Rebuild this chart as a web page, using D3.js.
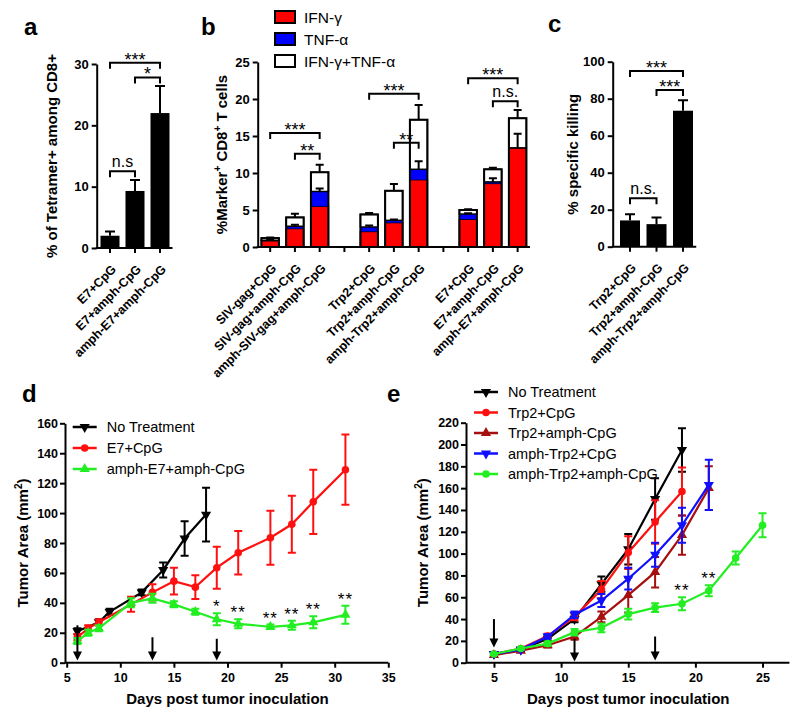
<!DOCTYPE html>
<html>
<head>
<meta charset="utf-8">
<script src="https://cdn.jsdelivr.net/npm/d3@7"></script>
<style>
  body { margin: 0; background: #fff; }
</style>
</head>
<body>
<svg width="800" height="716"></svg>
<script>
// ---- panel a ----
const aCats = ["E7+CpG", "E7+amph-CpG", "amph-E7+amph-CpG"];
const aVals = [2.0, 9.3, 22.0];
const aErr = [0.7, 1.8, 4.4];
const aTicks = [0, 10, 20, 30];
const aSig = [[0, 2, 30.2, "***"], [1, 2, 27.8, "*"], [0, 1, 12.5, "n.s"]];

// ---- panel b ----
const bCats = ["SIV-gag+CpG", "SIV-gag+amph-CpG", "amph-SIV-gag+amph-CpG", "",
  "Trp2+CpG", "Trp2+amph-CpG", "amph-Trp2+amph-CpG", "",
  "E7+CpG", "E7+amph-CpG", "amph-E7+amph-CpG"];
const bIfn = [0.85, 2.5, 5.5, 0, 2.1, 3.3, 9.1, 0, 3.75, 8.6, 13.4];
const bTnf = [0.05, 0.3, 2.0, 0, 0.6, 0.3, 1.4, 0, 0.7, 0.2, 0.0];
const bBoth = [0.3, 1.2, 2.6, 0, 1.7, 4.0, 6.7, 0, 0.55, 1.7, 4.0];
const bErr = [0.1, 0.5, 1.0, 0, 0.2, 0.9, 2.0, 0, 0.1, 0.2, 1.1];
const bInnerErr = [0.05, 0.2, 0.4, 0, 0.2, 0.1, 1.1, 0, 0.1, 0.5, 1.9];
const bTicks = [0, 5, 10, 15, 20, 25];
const bKeys = ["IFN-γ", "TNF-α", "IFN-γ+TNF-α"];
const bSig = [[0, 2, 15.4, "***"], [1, 2, 12.6, "**"],
  [4, 6, 20.7, "***"], [5, 6, 14.1, "**"],
  [8, 10, 22.8, "***"], [9, 10, 19.7, "n.s."]];

// ---- panel c ----
const cCats = ["Trp2+CpG", "Trp2+amph-CpG", "amph-Trp2+amph-CpG"];
const cVals = [14.2, 12.2, 73.5];
const cErr = [3.4, 3.6, 5.6];
const cTicks = [0, 20, 40, 60, 80, 100];
const cSig = [[0, 2, 95, "***"], [1, 2, 84.7, "***"], [0, 1, 26.2, "n.s."]];

// ---- panel d ----
const dNames = ["No Treatment", "E7+CpG", "amph-E7+amph-CpG"];
const dNoTxDays = [6, 8, 9, 12, 14, 16, 18];
const dNoTx = [21, 27, 34, 47, 62, 83, 99];
const dNoTxErr = [2, 2, 2, 2, 5, 11.5, 18];
const dDays = [6, 7, 8, 11, 13, 15, 17, 19, 21, 24, 26, 28, 31];
const dE7 = [17, 23, 27, 39, 47, 54.5, 50.5, 63.5, 73.5, 83.5, 92.5, 107.5, 129];
const dE7Err = [2, 2, 2, 5, 5.5, 9, 8, 14, 14.5, 18, 19, 21.5, 23.5];
const dAmph = [14.5, 20, 23, 40, 43, 39, 34, 29, 26, 24, 25, 27, 32];
const dAmphErr = [2, 2, 2, 3, 3, 2, 2, 4, 3, 1.5, 3, 4, 6];
const dStarDays = [19, 21, 24, 26, 28, 31];
const dStars = ["*", "**", "**", "**", "**", "**"];
const dArrowDays = [6, 13, 19];
const dArrowTop = [25, 17, 16];
const dArrowBot = [1.5, 1.5, 1.5];
const dXTicks = [5, 10, 15, 20, 25, 30, 35];
const dYTicks = d3.range(0, 161, 20);

// ---- panel e ----
const eNames = ["No Treatment", "Trp2+CpG", "Trp2+amph-CpG", "amph-Trp2+CpG", "amph-Trp2+amph-CpG"];
const eDays = [5, 7, 9, 11, 13, 15, 17, 19, 21, 23, 25];
const eNoTx = [8, 12, 22, 40, 72, 104, 150, 195];
const eNoTxErr = [1, 1, 2, 3, 7, 14, 19, 20];
const eTrp2 = [8, 13, 24.5, 42, 67, 101, 129, 157];
const eTrp2Err = [1, 1, 2, 3, 8, 15, 20, 22];
const eTrp2Amph = [7, 11, 16, 24, 42, 62, 83, 117, 160];
const eTrp2AmphErr = [1, 1, 2, 3, 5, 16, 14, 18, 20];
const eAmphTrp2 = [8, 12, 24, 44, 57, 77, 99, 126, 163];
const eAmphTrp2Err = [1, 1, 2, 3, 6, 10, 11, 16, 23];
const eAmphBoth = [8, 13, 17.5, 28, 32, 44.5, 50.5, 54, 66, 96, 126];
const eAmphBothErr = [1, 1, 2, 3, 4, 5, 4, 6, 5, 6, 11];
const eStarDays = [19, 21];
const eStars = ["**", "**"];
const eArrowDays = [5, 11, 17];
const eArrowTop = [40, 22, 24];
const eArrowBot = [14, 1, 2];
const eXTicks = [5, 10, 15, 20, 25];
const eYTicks = d3.range(0, 221, 20);

const FONT = "Arial, 'Liberation Sans', sans-serif";
const svg = d3.select("svg").attr("font-family", FONT);

function styleAxis(ax, fs) {
  ax.attr("font-family", FONT).attr("font-size", fs).attr("font-weight", "bold");
  ax.selectAll(".domain, .tick line").attr("stroke", "#000").attr("stroke-width", 2);
  ax.selectAll(".tick text").attr("fill", "#000");
}

function panelLetter(t, x, y) {
  svg.append("text").attr("x", x).attr("y", y).attr("font-size", 24)
    .attr("font-weight", "bold").text(t);
}

function yTitle(g, x, yc, parts) {
  const t = g.append("text").attr("transform", `translate(${x},${yc}) rotate(-90)`)
    .attr("text-anchor", "middle").attr("font-size", 15).attr("font-weight", "bold");
  parts.forEach(p => {
    if (p.sup) t.append("tspan").attr("font-size", 10).attr("dy", -6).text(p.t);
    else t.append("tspan").attr("dy", p.after ? 6 : 0).text(p.t);
  });
}

function barFrame(o) {
  const g = svg.append("g");
  const x = d3.scaleBand().domain(d3.range(o.labels.length)).range(o.xr)
    .paddingInner(o.pad).paddingOuter(o.pad / 2);
  const y = d3.scaleLinear().domain(o.yd).range(o.yr);
  const ya = g.append("g").attr("transform", `translate(${o.ax},0)`)
    .call(d3.axisLeft(y).tickValues(o.ticks).tickSize(5).tickPadding(3).tickSizeOuter(0));
  styleAxis(ya, 13);
  const xa = g.append("g").attr("transform", `translate(0,${o.yr[0]})`)
    .call(d3.axisBottom(x).tickSize(5).tickSizeOuter(0).tickFormat(i => o.labels[i]));
  styleAxis(xa, 12.5);
  xa.select(".domain").remove();
  xa.selectAll(".tick text").attr("y", 0).attr("dy", null).attr("text-anchor", "end")
    .attr("transform", "translate(7,22) rotate(-45)");
  g.append("line").attr("x1", o.ax - 1).attr("x2", o.xr[1]).attr("y1", o.yr[0]).attr("y2", o.yr[0])
    .attr("stroke", "#000").attr("stroke-width", 2);
  yTitle(g, o.tx, (o.yr[0] + o.yr[1]) / 2, o.title);
  return { g, x, y };
}

function errUp(p, i, v, e, w) {
  const cx = p.x(i) + p.x.bandwidth() / 2, y1 = p.y(v), y2 = p.y(v + e);
  p.g.append("path").attr("d", `M${cx},${y1}V${y2}M${cx - w / 2},${y2}H${cx + w / 2}`)
    .attr("stroke", "#000").attr("stroke-width", 2).attr("fill", "none");
}

function brackets(p, sig) {
  sig.forEach(([i, j, v, t]) => {
    const x1 = p.x(i) + p.x.bandwidth() / 2, x2 = p.x(j) + p.x.bandwidth() / 2, yy = p.y(v);
    p.g.append("path").attr("d", `M${x1},${yy + 6}V${yy}H${x2}V${yy + 6}`)
      .attr("fill", "none").attr("stroke", "#000").attr("stroke-width", 2);
    const star = t[0] === "*";
    p.g.append("text").attr("x", (x1 + x2) / 2).attr("y", star ? yy + 3 : yy - 4)
      .attr("text-anchor", "middle").attr("font-size", star ? 18 : 16).text(t);
  });
}

// ---------- a ----------
panelLetter("a", 24, 35);
const pa = barFrame({ labels: aCats, xr: [97.5, 172.5], pad: 0.24, ax: 96.7, yd: [0, 30], yr: [248, 64],
  ticks: aTicks, tx: 57, title: [{ t: "% of Tetramer+ among CD8+" }] });
pa.g.selectAll(".bar").data(aVals).join("rect")
  .attr("x", (d, i) => pa.x(i)).attr("y", d => pa.y(d))
  .attr("width", pa.x.bandwidth()).attr("height", d => pa.y(0) - pa.y(d)).attr("fill", "#000");
aVals.forEach((v, i) => errUp(pa, i, v, aErr[i], 10));
brackets(pa, aSig);

// ---------- b ----------
panelLetter("b", 201, 35);
const pb = barFrame({ labels: bCats, xr: [257.8, 530], pad: 0.293, ax: 257.7, yd: [0, 25], yr: [247, 62],
  ticks: bTicks, tx: 227,
  title: [{ t: "%Marker" }, { t: "+", sup: true }, { t: " CD8", after: true }, { t: "+", sup: true }, { t: " T cells", after: true }] });
const bRows = bCats.map((c, i) => ({ i, ifn: bIfn[i], tnf: bTnf[i], both: bBoth[i] }));
const bStack = d3.stack().keys(["ifn", "tnf", "both"])(bRows);
const bColor = d3.scaleOrdinal().domain(["ifn", "tnf", "both"]).range(["#ff0000", "#0000ff", "#ffffff"]);
bStack.forEach(layer => {
  pb.g.append("g").selectAll("rect").data(layer.filter(d => bCats[d.data.i] !== "")).join("rect")
    .attr("x", d => pb.x(d.data.i)).attr("y", d => pb.y(d[1]))
    .attr("width", pb.x.bandwidth()).attr("height", d => pb.y(d[0]) - pb.y(d[1]))
    .attr("fill", bColor(layer.key)).attr("stroke", "#000").attr("stroke-width", layer.key === "tnf" ? 0 : 1.5);
});
bRows.forEach(r => {
  if (bCats[r.i] === "") return;
  const tot = r.ifn + r.tnf + r.both;
  pb.g.append("rect").attr("x", pb.x(r.i)).attr("y", pb.y(tot)).attr("width", pb.x.bandwidth())
    .attr("height", pb.y(0) - pb.y(tot)).attr("fill", "none").attr("stroke", "#000").attr("stroke-width", 2);
  errUp(pb, r.i, tot, bErr[r.i], 8);
  errUp(pb, r.i, r.ifn + r.tnf, bInnerErr[r.i], 8);
});
brackets(pb, bSig);
const bLeg = svg.append("g").attr("transform", "translate(275,11)");
bKeys.forEach((k, i) => {
  const row = bLeg.append("g").attr("transform", `translate(0,${i * 22})`);
  row.append("rect").attr("width", 20).attr("height", 12)
    .attr("fill", bColor.range()[i]).attr("stroke", "#000").attr("stroke-width", 2);
  row.append("text").attr("x", 29).attr("y", 12).attr("font-size", 15.5).text(k);
});

// ---------- c ----------
panelLetter("c", 548, 32);
const pc = barFrame({ labels: cCats, xr: [616.75, 696.25], pad: 0.245, ax: 612.7, yd: [0, 100], yr: [246.7, 61.7],
  ticks: cTicks, tx: 578, title: [{ t: "% specific killing" }] });
pc.g.selectAll(".bar").data(cVals).join("rect")
  .attr("x", (d, i) => pc.x(i)).attr("y", d => pc.y(d))
  .attr("width", pc.x.bandwidth()).attr("height", d => pc.y(0) - pc.y(d)).attr("fill", "#000");
cVals.forEach((v, i) => errUp(pc, i, v, cErr[i], 10));
brackets(pc, cSig);

// ---------- line panels ----------
const SYM = {
  down: { type: d3.symbolTriangle, size: 45, rot: 180 },
  circle: { type: d3.symbolCircle, size: 45, rot: 0 },
  up: { type: d3.symbolTriangle, size: 45, rot: 0 }
};

function lineFrame(o) {
  const g = svg.append("g");
  const x = d3.scaleLinear().domain(o.xd).range(o.xr);
  const y = d3.scaleLinear().domain(o.yd).range(o.yr);
  const ya = g.append("g").attr("transform", `translate(${o.ax},0)`)
    .call(d3.axisLeft(y).tickValues(o.yt).tickSize(5).tickPadding(2).tickSizeOuter(0));
  styleAxis(ya, 12.5);
  const xa = g.append("g").attr("transform", `translate(0,${o.yr[0]})`)
    .call(d3.axisBottom(x).tickValues(o.xt).tickSize(5).tickPadding(5).tickSizeOuter(0));
  styleAxis(xa, 12.5);
  xa.select(".domain").attr("d", `M${o.ax},0H${o.xr[1]}`);
  yTitle(g, o.tx, (o.yr[0] + o.yr[1]) / 2, [{ t: "Tumor Area (mm" }, { t: "2", sup: true }, { t: ")", after: true }]);
  g.append("text").attr("x", (o.xr[0] + o.xr[1]) / 2).attr("y", 704).attr("text-anchor", "middle")
    .attr("font-size", 15).attr("font-weight", "bold").text("Days post tumor inoculation");
  return { g, x, y };
}

function marker(sel, s) {
  return sel.attr("d", d3.symbol(s.type, s.size)());
}

function series(p, days, vals, errs, color, s) {
  const pts = vals.map((v, i) => [days[i], v, errs[i]]);
  p.g.append("path").datum(pts).attr("d", d3.line().x(d => p.x(d[0])).y(d => p.y(d[1])))
    .attr("fill", "none").attr("stroke", color).attr("stroke-width", 2.2);
  const eb = p.g.append("g").attr("stroke", color).attr("stroke-width", 2).attr("fill", "none");
  pts.forEach(d => {
    const cx = p.x(d[0]), y1 = p.y(d[1] - d[2]), y2 = p.y(d[1] + d[2]);
    eb.append("path").attr("d", `M${cx},${y1}V${y2}M${cx - 4},${y1}H${cx + 4}M${cx - 4},${y2}H${cx + 4}`);
  });
  marker(p.g.append("g").selectAll("path").data(pts).join("path")
    .attr("transform", d => `translate(${p.x(d[0])},${p.y(d[1])}) rotate(${s.rot})`), s)
    .attr("fill", color);
}

function legend(x, y, step, names, colors, syms) {
  names.forEach((n, i) => {
    const row = svg.append("g").attr("transform", `translate(${x},${y + i * step})`);
    row.append("line").attr("x1", 0).attr("x2", 24).attr("stroke", colors[i]).attr("stroke-width", 2.5);
    marker(row.append("path").attr("transform", `translate(12,0) rotate(${syms[i].rot})`), syms[i]).attr("fill", colors[i]);
    row.append("text").attr("x", 34).attr("y", 5).attr("font-size", 14.5).text(n);
  });
}

function arrows(p, days, tops, bots) {
  days.forEach((d, i) => {
    const cx = p.x(d), y1 = p.y(tops[i]), y2 = p.y(bots[i]);
    p.g.append("line").attr("x1", cx).attr("x2", cx).attr("y1", y1).attr("y2", y2 - 6)
      .attr("stroke", "#000").attr("stroke-width", 2);
    p.g.append("path").attr("d", `M${cx - 4.5},${y2 - 9}L${cx + 4.5},${y2 - 9}L${cx},${y2}Z`).attr("fill", "#000");
  });
}

function stars(p, days, txt, refDays, refVals, refErr) {
  days.forEach((d, i) => {
    const k = refDays.indexOf(d);
    p.g.append("text").attr("x", p.x(d)).attr("y", p.y(refVals[k] + refErr[k]) - 1)
      .attr("text-anchor", "middle").attr("font-size", 17).attr("letter-spacing", 1).text(txt[i]);
  });
}

// ---------- d ----------
panelLetter("d", 22, 402);
const pd = lineFrame({ xd: [5, 35], xr: [66.7, 388.3], yd: [0, 160], yr: [662.7, 423.3], ax: 65,
  xt: dXTicks, yt: dYTicks, tx: 28 });
series(pd, dNoTxDays, dNoTx, dNoTxErr, "#000000", SYM.down);
series(pd, dDays, dE7, dE7Err, "#ff1010", SYM.circle);
series(pd, dDays, dAmph, dAmphErr, "#22ee22", SYM.up);
arrows(pd, dArrowDays, dArrowTop, dArrowBot);
stars(pd, dStarDays, dStars, dDays, dAmph, dAmphErr);
legend(72.7, 427, 21, dNames, ["#000000", "#ff1010", "#22ee22"], [SYM.down, SYM.circle, SYM.up]);

// ---------- e ----------
panelLetter("e", 387, 402);
const pe = lineFrame({ xd: [3, 27], xr: [467.1, 789.4], yd: [0, 220], yr: [662.7, 422.7], ax: 466,
  xt: eXTicks, yt: eYTicks, tx: 428 });
series(pe, eDays, eNoTx, eNoTxErr, "#000000", SYM.down);
series(pe, eDays, eTrp2, eTrp2Err, "#ff1010", SYM.circle);
series(pe, eDays, eTrp2Amph, eTrp2AmphErr, "#a50f0f", SYM.up);
series(pe, eDays, eAmphTrp2, eAmphTrp2Err, "#1010ff", SYM.down);
series(pe, eDays, eAmphBoth, eAmphBothErr, "#22ee22", SYM.circle);
arrows(pe, eArrowDays, eArrowTop, eArrowBot);
stars(pe, eStarDays, eStars, eDays, eAmphBoth, eAmphBothErr);
legend(474, 392, 20.5, eNames, ["#000000", "#ff1010", "#a50f0f", "#1010ff", "#22ee22"],
  [SYM.down, SYM.circle, SYM.up, SYM.down, SYM.circle]);
</script>
</body>
</html>
